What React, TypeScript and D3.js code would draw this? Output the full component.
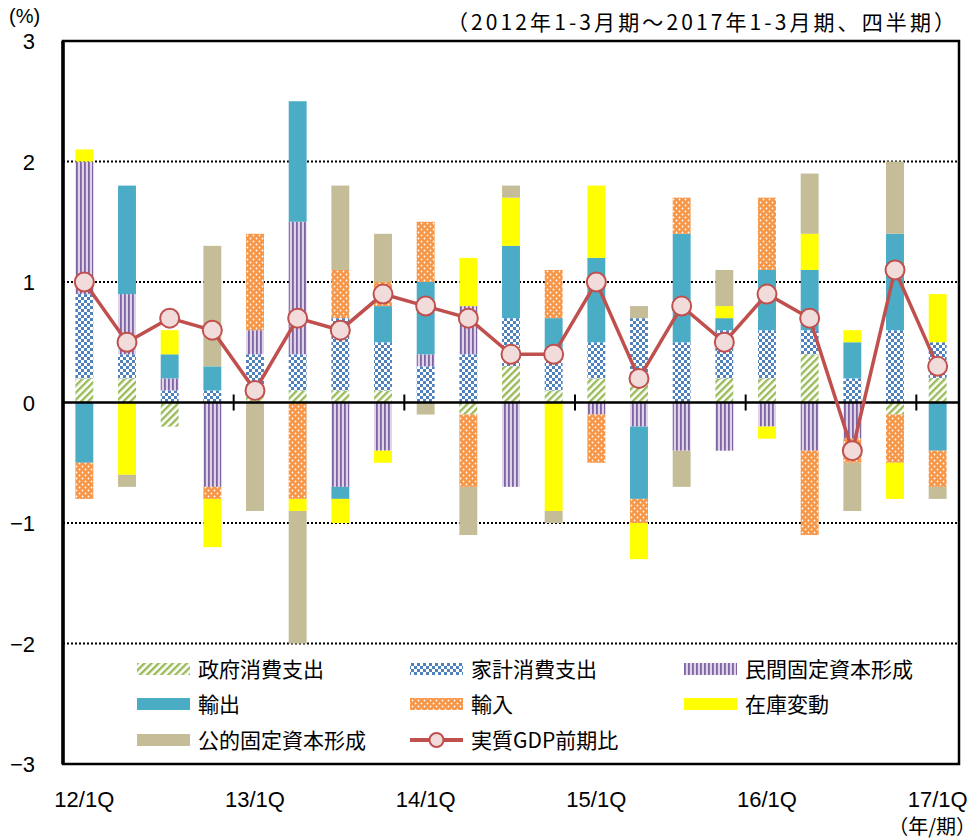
import React, { useEffect, useRef } from "react";
import * as d3 from "d3";

// quarters 2012 Q1 .. 2017 Q1
const quarters = [
  "12/1Q", "12/2Q", "12/3Q", "12/4Q",
  "13/1Q", "13/2Q", "13/3Q", "13/4Q",
  "14/1Q", "14/2Q", "14/3Q", "14/4Q",
  "15/1Q", "15/2Q", "15/3Q", "15/4Q",
  "16/1Q", "16/2Q", "16/3Q", "16/4Q",
  "17/1Q",
];
const tickLabels = ["12/1Q", "13/1Q", "14/1Q", "15/1Q", "16/1Q", "17/1Q"];
const yTicks = [3, 2, 1, 0, -1, -2, -3];

// contributions (percentage points)
const govt = [0.2, 0.2, -0.2, 0, 0.1, 0.1, 0.1, 0.1, 0, -0.1, 0.3, 0.1, 0.2, 0.2, 0, 0.2, 0.2, 0.4, 0, -0.1, 0.2];
const household = [0.7, 0.2, 0.1, 0.1, 0.3, 0.3, 0.6, 0.4, 0.3, 0.4, 0.4, 0.3, 0.3, 0.5, 0.5, 0.4, 0.4, 0.2, 0.2, 0.6, 0.3];
const privateInv = [1.1, 0.5, 0.1, -0.7, 0.2, 1.1, -0.7, -0.4, 0.1, 0.4, -0.7, 0, -0.1, -0.2, -0.4, -0.4, -0.2, -0.4, -0.3, 0, 0];
const exportsV = [-0.5, 0.9, 0.2, 0.2, 0, 1.0, -0.1, 0.3, 0.6, 0, 0.6, 0.3, 0.7, -0.6, 0.9, 0.1, 0.5, 0.5, 0.3, 0.8, -0.4];
const importsV = [-0.3, 0, 0, -0.1, 0.8, -0.8, 0.4, 0.2, 0.5, -0.6, 0, 0.4, -0.4, -0.2, 0.3, 0, 0.6, -0.7, -0.2, -0.4, -0.3];
const inventory = [0.1, -0.6, 0.2, -0.4, 0, -0.1, -0.2, -0.1, 0, 0.4, 0.4, -0.9, 0.6, -0.3, 0, 0.1, -0.1, 0.3, 0.1, -0.3, 0.4];
const publicInv = [0, -0.1, 0, 1.0, -0.9, -1.1, 0.7, 0.4, -0.1, -0.4, 0.1, -0.1, 0, 0.1, -0.3, 0.3, 0, 0.5, -0.4, 0.6, -0.1];
const gdp = [1.0, 0.5, 0.7, 0.6, 0.1, 0.7, 0.6, 0.9, 0.8, 0.7, 0.4, 0.4, 1.0, 0.2, 0.8, 0.5, 0.9, 0.7, -0.4, 1.1, 0.3];

const keys = ["gov", "hh", "pfi", "exp", "imp", "inv", "pub"];
const names = ["政府消費支出", "家計消費支出", "民間固定資本形成", "輸出", "輸入", "在庫変動", "公的固定資本形成"];
const fills = ["url(#pGov)", "url(#pHh)", "url(#pPfi)", "#4BACC6", "url(#pImp)", "#FFFF00", "#C4BD97"];

const FONT = "'Noto Sans CJK JP', 'Noto Sans', sans-serif";
const NUMFONT = "'Liberation Sans', Arial, sans-serif";

const App = () => {
  const ref = useRef(null);

  useEffect(() => {
    document.body.style.margin = "0";
    const W = 979, H = 840;
    const left = 63, right = 959, top = 41, bottom = 764;

    const rows = quarters.map((q, i) => ({
      q,
      gov: govt[i],
      hh: household[i],
      pfi: privateInv[i],
      exp: exportsV[i],
      imp: importsV[i],
      inv: inventory[i],
      pub: publicInv[i],
    }));

    const series = d3.stack().keys(keys).offset(d3.stackOffsetDiverging)(rows);

    const x = d3.scaleBand().domain(quarters).range([left, right]).paddingInner(0.58).paddingOuter(0.29);
    const y = d3.scaleLinear().domain([-3, 3]).range([bottom, top]);

    const svg = d3.select(ref.current).attr("width", W).attr("height", H);
    svg.selectAll("*").remove();

    const defs = svg.append("defs");
    const pg = defs.append("pattern").attr("id", "pGov").attr("patternUnits", "userSpaceOnUse")
      .attr("width", 5).attr("height", 5).attr("patternTransform", "rotate(45)");
    pg.append("rect").attr("width", 5).attr("height", 5).attr("fill", "#fff");
    pg.append("rect").attr("width", 2.4).attr("height", 5).attr("fill", "#9BBB59");

    const ph = defs.append("pattern").attr("id", "pHh").attr("patternUnits", "userSpaceOnUse")
      .attr("width", 6).attr("height", 6);
    ph.append("rect").attr("width", 6).attr("height", 6).attr("fill", "#fff");
    ph.append("rect").attr("width", 3).attr("height", 3).attr("fill", "#4F81BD");
    ph.append("rect").attr("x", 3).attr("y", 3).attr("width", 3).attr("height", 3).attr("fill", "#4F81BD");

    const pp = defs.append("pattern").attr("id", "pPfi").attr("patternUnits", "userSpaceOnUse")
      .attr("width", 4).attr("height", 4);
    pp.append("rect").attr("width", 4).attr("height", 4).attr("fill", "#DDD4EA");
    pp.append("rect").attr("width", 1.8).attr("height", 4).attr("fill", "#8064A2");

    const pi = defs.append("pattern").attr("id", "pImp").attr("patternUnits", "userSpaceOnUse")
      .attr("width", 6).attr("height", 6);
    pi.append("rect").attr("width", 6).attr("height", 6).attr("fill", "#F79646");
    pi.append("circle").attr("cx", 1.5).attr("cy", 1.5).attr("r", 0.9).attr("fill", "#fff");
    pi.append("circle").attr("cx", 4.5).attr("cy", 4.5).attr("r", 0.9).attr("fill", "#fff");

    // grid
    svg.append("g")
      .selectAll("line")
      .data([2, 1, -1, -2])
      .join("line")
      .attr("x1", left).attr("x2", right)
      .attr("y1", (d) => y(d)).attr("y2", (d) => y(d))
      .attr("stroke", "#000").attr("stroke-width", 1.8).attr("stroke-dasharray", "2,2");

    // bars
    svg.append("g")
      .selectAll("g")
      .data(series)
      .join("g")
      .attr("fill", (d, i) => fills[i])
      .selectAll("rect")
      .data((d) => d.filter((s) => s[1] - s[0] !== 0))
      .join("rect")
      .attr("x", (d) => x(d.data.q))
      .attr("width", x.bandwidth())
      .attr("y", (d) => y(Math.max(d[0], d[1])))
      .attr("height", (d) => Math.abs(y(d[0]) - y(d[1])));

    // zero line and year ticks
    svg.append("line").attr("x1", left).attr("x2", right).attr("y1", y(0)).attr("y2", y(0))
      .attr("stroke", "#000").attr("stroke-width", 2.5);
    const step = x.step();
    svg.append("g")
      .selectAll("line")
      .data([4, 8, 12, 16, 20])
      .join("line")
      .attr("x1", (d) => left + d * step).attr("x2", (d) => left + d * step)
      .attr("y1", y(0) - 8).attr("y2", y(0) + 8)
      .attr("stroke", "#000").attr("stroke-width", 2);

    // GDP line
    const cx = (i) => x(quarters[i]) + x.bandwidth() / 2;
    const line = d3.line().x((d, i) => cx(i)).y((d) => y(d));
    svg.append("path").datum(gdp).attr("d", line).attr("fill", "none")
      .attr("stroke", "#C0504D").attr("stroke-width", 3.5);
    svg.append("g")
      .selectAll("circle")
      .data(gdp)
      .join("circle")
      .attr("cx", (d, i) => cx(i)).attr("cy", (d) => y(d)).attr("r", 9.5)
      .attr("fill", "#F2DCDB").attr("stroke", "#C0504D").attr("stroke-width", 2);

    // frame
    svg.append("rect").attr("x", left).attr("y", top).attr("width", right - left).attr("height", bottom - top)
      .attr("fill", "none").attr("stroke", "#000").attr("stroke-width", 2.5);
    svg.append("line").attr("x1", left).attr("x2", left).attr("y1", top).attr("y2", bottom)
      .attr("stroke", "#000").attr("stroke-width", 3.5);

    // y labels
    svg.append("g")
      .selectAll("text")
      .data(yTicks)
      .join("text")
      .attr("x", 35).attr("y", (d) => y(d) + 8)
      .attr("text-anchor", "end")
      .attr("font-family", NUMFONT).attr("font-size", 22)
      .text((d) => (d < 0 ? "\u2212" + Math.abs(d) : String(d)));

    // x labels
    svg.append("g")
      .selectAll("text")
      .data(tickLabels)
      .join("text")
      .attr("x", (d) => x(d) + x.bandwidth() / 2)
      .attr("y", 807)
      .attr("text-anchor", "middle")
      .attr("font-family", NUMFONT).attr("font-size", 22)
      .text((d) => d);

    svg.append("text").attr("x", 9).attr("y", 23).attr("font-family", NUMFONT).attr("font-size", 20).text("(%)");
    svg.append("text").attr("x", 955).attr("y", 30).attr("text-anchor", "end")
      .attr("font-family", FONT).attr("font-size", 21)
      .attr("textLength", 508).attr("lengthAdjust", "spacing")
      .text("（2012年1-3月期～2017年1-3月期、四半期）");
    svg.append("text").attr("x", 976).attr("y", 834).attr("text-anchor", "end")
      .attr("font-family", FONT).attr("font-size", 20).text("（年/期）");

    // legend
    const legCols = [137, 410, 684];
    const legRows = [669, 704, 740];
    const items = names.map((n, i) => ({ n, f: fills[i], col: i % 3, row: Math.floor(i / 3) }));
    const leg = svg.append("g");
    items.forEach((it) => {
      const lx = legCols[it.col], ly = legRows[it.row];
      leg.append("rect").attr("x", lx).attr("y", ly - 6).attr("width", 53).attr("height", 12).attr("fill", it.f);
      leg.append("text").attr("x", lx + 61).attr("y", ly + 8)
        .attr("font-family", FONT).attr("font-size", 21).text(it.n);
    });
    const gx = legCols[1], gy = legRows[2];
    leg.append("line").attr("x1", gx).attr("x2", gx + 53).attr("y1", gy).attr("y2", gy)
      .attr("stroke", "#C0504D").attr("stroke-width", 4);
    leg.append("circle").attr("cx", gx + 26.5).attr("cy", gy).attr("r", 7)
      .attr("fill", "#F2DCDB").attr("stroke", "#C0504D").attr("stroke-width", 2);
    leg.append("text").attr("x", gx + 61).attr("y", gy + 8)
      .attr("font-family", FONT).attr("font-size", 21).text("実質GDP前期比");
  });

  return (
    <div id="chartArea">
      <svg ref={ref} style={{ display: "block" }}></svg>
    </div>
  );
};

export default App;
